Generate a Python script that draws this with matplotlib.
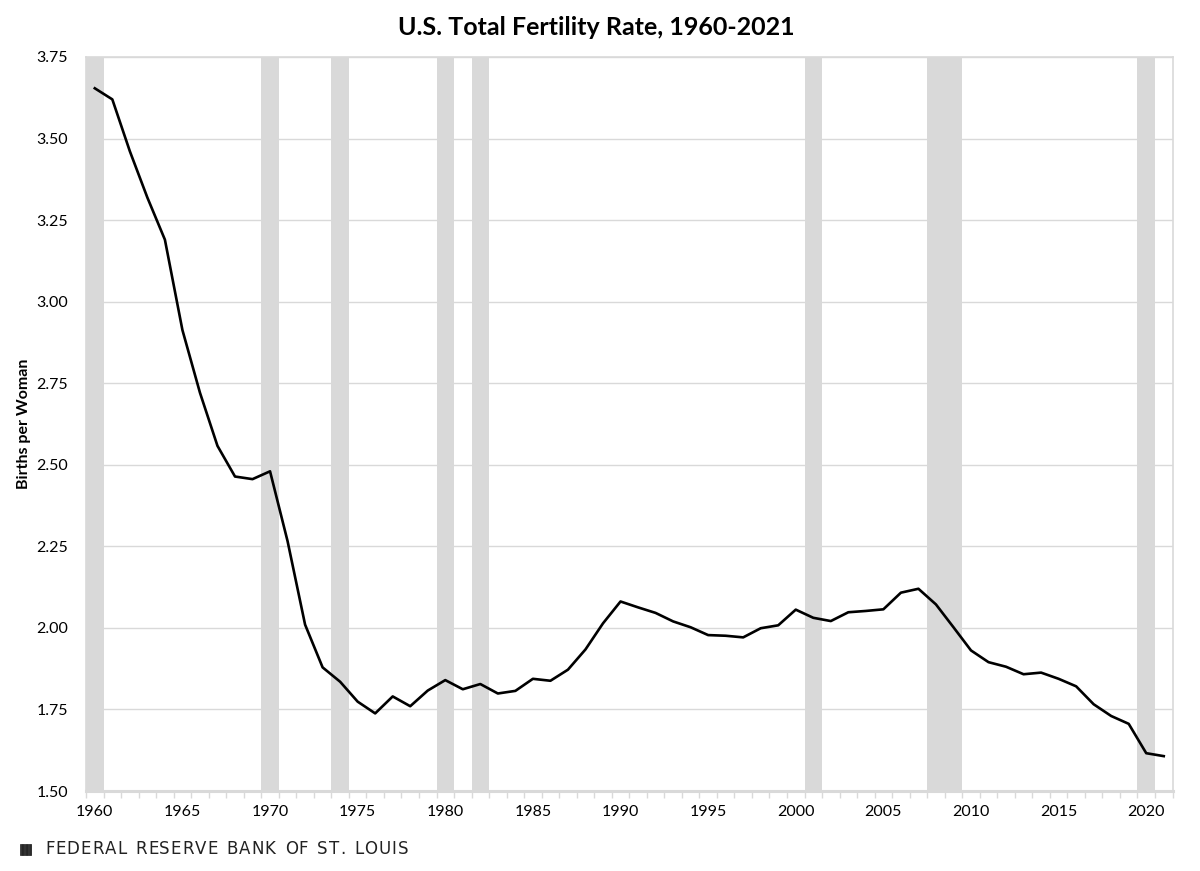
import numpy as np
import matplotlib
matplotlib.use("Agg")
import matplotlib.pyplot as plt
from matplotlib.patches import Rectangle

# Total fertility rate, births per woman
years = list(range(1960, 2022))
tfr = [3.654, 3.620, 3.461, 3.319, 3.190, 2.913, 2.721, 2.558, 2.464, 2.456,
       2.480, 2.266, 2.010, 1.879, 1.835, 1.774, 1.738, 1.790, 1.760, 1.808,
       1.840, 1.812, 1.828, 1.799, 1.807, 1.844, 1.838, 1.872, 1.934, 2.014,
       2.081, 2.063, 2.046, 2.020, 2.002, 1.978, 1.976, 1.971, 1.999, 2.008,
       2.056, 2.031, 2.021, 2.048, 2.052, 2.057, 2.108, 2.120, 2.072, 2.002,
       1.931, 1.895, 1.881, 1.858, 1.863, 1.844, 1.821, 1.766, 1.730, 1.706,
       1.616, 1.607]

# years shaded as recessions
recession_years = [1960, 1970, 1974, 1980, 1982, 2001, 2008, 2009, 2020]

label_years = list(range(1960, 2021, 5))
y_ticks = [1.50, 1.75, 2.00, 2.25, 2.50, 2.75, 3.00, 3.25, 3.50, 3.75]

grey = "#d9d9d9"
font = "Lato"

fig = plt.figure(figsize=(12, 8.71), dpi=100)
ax = fig.add_axes([0.0717, 0.0918, 0.9054, 0.8428])

for yr in recession_years:
    ax.axvspan(yr - 0.5, yr + 0.5, color=grey, lw=0, zorder=1)

ax.plot(years, tfr, color="black", lw=1.9, zorder=3)

ax.set_xlim(years[0] - 0.5, years[-1] + 0.5)
ax.set_ylim(1.5, 3.75)
ax.set_yticks(y_ticks)
ax.set_yticklabels([f"{v:.2f}" for v in y_ticks], fontfamily=font, fontsize=11.5)
ax.set_xticks(label_years)
ax.set_xticklabels([str(y) for y in label_years], fontfamily=font, fontsize=11.5)
ax.set_xticks([y - 0.5 for y in years] + [years[-1] + 0.5], minor=True)
ax.tick_params(axis="x", which="major", length=0, pad=10)
ax.tick_params(axis="x", which="minor", length=5, width=1, color=grey)
ax.tick_params(axis="y", length=0, pad=13)

ax.grid(axis="y", color=grey, lw=1, zorder=0)
ax.set_axisbelow(True)
for side in ["top", "right", "left"]:
    ax.spines[side].set_color(grey)
    ax.spines[side].set_linewidth(1.2)
ax.spines["bottom"].set_color(grey)
ax.spines["bottom"].set_linewidth(2.2)

ax.set_ylabel("Births per Woman", fontfamily=font, fontweight="bold", fontsize=11.5)
ax.yaxis.set_label_coords(-0.051, 0.5)

fig.text(0.497, 0.968, "U.S. Total Fertility Rate, 1960-2021", ha="center", va="center",
         fontfamily=font, fontweight="bold", fontsize=18)

# footer with a small logo square and letter-spaced text
fig.patches.append(Rectangle((20 / 1200, 1 - 855 / 871), 11 / 1200, 11 / 871,
                             transform=fig.transFigure, facecolor="#333333",
                             edgecolor="#222222", hatch="||||", lw=0.5))
footer = "FEDERAL RESERVE BANK OF ST. LOUIS"
renderer = fig.canvas.get_renderer()
x_px = 45.0
for ch in footer:
    t = fig.text(x_px / 1200, 1 - 849 / 871, ch, ha="left", va="center",
                 fontfamily="DejaVu Sans", fontsize=12, color="#222222")
    w = t.get_window_extent(renderer).width if ch != " " else 7.0
    x_px += w + 1.0

fig.savefig("out.png", dpi=100)
